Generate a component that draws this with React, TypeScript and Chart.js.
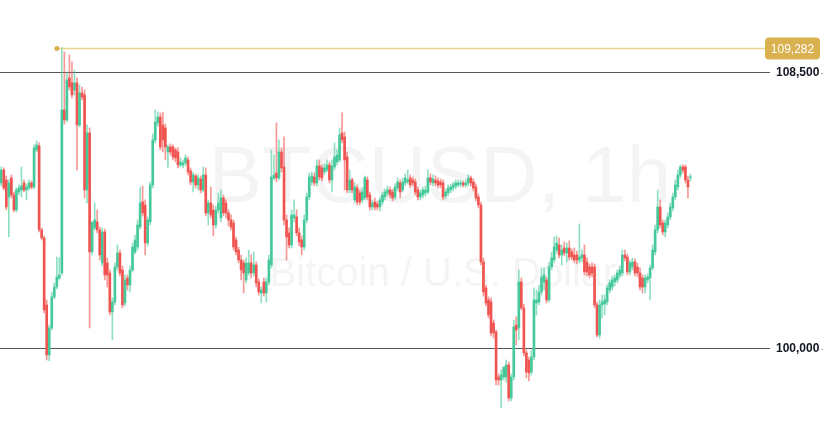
import React, { useEffect, useRef } from 'react';
import { Chart, registerables } from 'chart.js';

Chart.register(...registerables);

const opens = [105114,105514,105206,104682,105268,104744,104282,104836,104898,105114,104898,104960,105114,104990,106130,106253,103666,103420,101356,99816,100648,101602,101910,102188,102342,107362,107054,108348,108194,107978,108194,106900,107886,107824,104898,106654,102988,103728,103912,103666,102650,103604,102650,102342,101140,101448,102526,102958,102434,101418,102188,101972,102434,102988,103142,103758,104528,104436,103266,103912,105052,106438,106962,107146,106900,106808,106068,106222,106222,106130,106068,105668,105668,105730,105822,105483,105144,105329,105052,105237,104898,105360,104190,104498,104282,103820,104282,104036,104652,104498,104190,103974,103882,103358,103050,102742,102650,102126,102342,102650,102342,102588,102065,101726,102065,101726,102065,102588,105268,105422,105268,106068,105606,103974,103574,103204,104036,104066,103574,103358,103142,103974,104682,105144,105298,105114,105637,105576,105452,105514,105668,105206,105606,105760,105822,106654,106531,105914,104898,105206,104590,104960,104806,104590,104652,105206,104744,104374,104528,104467,104374,104528,104682,104806,104898,104836,104682,104960,105114,104898,105114,105144,105268,105206,105144,104898,104682,104744,104806,104836,105268,105114,105206,105175,105144,105114,104713,104806,104898,104960,105021,105052,105083,105114,105052,105114,105268,105144,104990,104682,104436,102680,101880,101510,101448,100802,100524,99138,99046,99138,99138,99508,98492,99138,100740,100648,102065,101264,99878,99662,99292,99754,101418,101448,101756,102065,102126,101510,102526,102742,103050,103204,102896,103111,102958,103111,102988,102896,102896,102742,102804,102896,102680,102526,102526,102526,101356,100432,101356,101387,101448,101818,101910,102065,102126,102280,102342,102896,102834,102372,102526,102680,102526,102342,102188,101910,102126,102188,102496,102988,103666,104374,103882,103604,103820,104066,104344,104682,104990,105360,105606,105606,105206,105268];
const highs = [105606,105576,105329,105206,105360,104836,104960,105052,105606,105206,105083,105206,105175,106284,106407,106346,103728,103481,101510,100740,101756,102034,102834,102804,109282,109148,108532,109056,108840,108594,108348,108132,108070,107978,106900,106808,103728,104498,104282,103758,103728,103697,102804,102434,101572,102650,103204,103050,102557,102280,102280,102557,103266,103512,103974,104990,105021,104590,104066,105144,106623,107362,107300,107270,107300,106931,106284,106315,106284,106192,106192,105884,105822,105976,105914,105576,105452,105391,105360,105329,105606,105576,104590,104990,104436,104405,104806,104898,104744,104590,104282,104128,103974,103450,103142,102896,102742,102804,103050,102896,102988,102680,102157,101910,102188,102188,102896,106130,105976,106962,106438,106192,106531,104128,103728,104282,104590,104282,103728,103481,104128,104806,105422,105452,105422,105822,105822,105668,105699,105822,105760,105822,106346,106130,106808,107270,106684,106068,105514,105268,105114,105052,104898,104960,105329,105298,104836,104590,104652,104559,104682,104836,104929,105021,104990,104929,105083,105268,105206,105268,105391,105514,105360,105298,105237,104990,104898,104990,105021,105514,105391,105360,105329,105268,105237,105206,104929,105052,105083,105144,105206,105206,105206,105175,105206,105360,105329,105237,105083,104775,104528,102804,101972,101602,101572,100894,100586,99231,99354,99262,99662,99600,99231,100894,100986,102434,102188,101387,99970,99754,99970,101880,101818,101972,102496,102496,102218,102680,102988,103450,103481,103420,103204,103296,103266,103327,103081,103111,103019,103851,103050,103204,102804,102619,102650,102619,101448,101510,101664,101664,101972,102126,102249,102280,102434,102557,103050,103050,102927,102742,102804,102773,102650,102496,102280,102280,102311,102588,103204,103820,104898,104590,103974,103974,104190,104498,104806,105206,105514,105668,105668,105668,105329,105391];
const lows = [105021,104898,104282,103450,104652,104220,104220,104744,104682,104836,104590,104898,104929,104929,106068,103604,103358,101110,99662,99631,100586,101541,101849,102126,102280,106931,106992,107978,107732,107824,105514,106838,107670,104652,104498,100648,102896,103666,103574,102742,102557,102126,101910,101048,100278,101356,102434,102249,101264,101325,101818,101756,102372,102927,103050,103697,104097,102896,103173,103820,104960,106346,106869,106130,106068,105822,105576,105976,105822,105760,105576,105606,105576,105637,105360,105052,104836,104960,104898,104806,104836,104097,103820,104036,103481,103728,104190,103912,104097,104036,103789,103666,103050,102896,102650,102126,101726,102034,102280,102188,102249,101910,101664,101418,101633,101448,101972,102496,105206,105144,105206,105452,103820,102742,103111,103111,103912,103481,103173,102896,103050,103882,104590,105052,105021,105021,105206,105175,105360,105452,105114,104836,105514,105668,105760,106346,104898,104806,104806,104806,104498,104436,104436,104498,104590,104590,104282,104282,104282,104282,104251,104436,104590,104713,104652,104559,104590,104867,104652,104836,105021,105083,104960,105021,104744,104590,104590,104652,104713,104775,105052,105021,105021,104960,104960,104590,104621,104713,104806,104867,104929,104990,104990,104990,104990,105021,105021,104867,104559,104344,102588,101633,101325,100956,100401,100340,98892,98892,98184,99046,98984,98399,98399,99046,100124,100278,101202,99785,99108,99015,99200,99662,101048,101356,101664,101818,101418,101448,102434,102650,102958,102804,102588,102865,102680,102742,102742,102650,102619,102650,102680,102280,102249,102188,102218,101264,100370,100340,100956,101048,101356,101726,101818,101941,102034,102188,102249,102711,102280,102280,102434,102249,102218,101818,101726,101726,102034,101510,102434,102896,103574,103728,103512,103450,103728,103974,104251,104590,104898,105268,105422,105114,104652,105175];
const closes = [105514,104960,104374,105114,104744,104282,104898,104960,105021,104898,104990,105114,104990,106192,106284,103666,103420,101202,99816,100648,101602,101910,102218,102280,107362,107054,108286,108070,107824,108194,106900,107886,107762,104898,106654,102988,103912,103974,103666,102896,103604,102280,102280,101140,101448,102526,102958,102342,101356,102126,101972,102434,103142,103358,103820,104498,104190,103266,103974,105052,106438,106992,107146,106222,106438,106222,106222,106068,105914,105884,105668,105760,105730,105884,105452,105144,105360,105052,105268,104898,105360,104190,104498,104128,103820,104282,104498,104652,104190,104190,103974,103758,103142,102988,102742,102434,102342,102650,102650,102342,102588,102034,101756,101818,101726,102065,102742,105298,105360,105268,106068,105576,103974,103450,103204,104128,104128,103574,103296,103142,103974,104682,105298,105329,105114,105637,105298,105268,105576,105668,105206,105637,105914,105976,106592,106438,105822,104898,105206,104898,104990,104528,104528,104836,105268,104682,104374,104498,104374,104374,104590,104744,104836,104898,104744,104652,104990,105144,104836,105144,105268,105206,105052,105114,104836,104682,104806,104898,104898,105268,105144,105237,105114,105052,105052,104682,104836,104960,104990,105052,105114,105114,105114,105052,105114,105268,105114,104960,104652,104436,102680,101756,101418,101048,100494,100494,99046,99046,99200,99446,99508,98492,99138,100678,100586,102065,101264,99878,99292,99262,99754,101510,101510,101756,102218,102280,101510,102526,102804,103142,103266,102896,103050,102958,103111,102834,102834,102742,102742,102834,102896,102372,102372,102280,102342,101356,100432,101356,101448,101510,101880,102034,102126,102188,102342,102434,102896,102804,102372,102650,102680,102342,102342,101910,101910,102188,102218,102496,103050,103666,104374,103820,103604,103882,104066,104374,104682,105052,105360,105606,105514,105206,104990,105298];

const futureSlots = 31;
const categories = Array.from({ length: opens.length + futureSlots }, (_, i) => `h${i}`);
const priceTicks = [100000, 108500];
const peakPrice = 109282;
const peakLabel = '109,282';
const titleText = 'BTCUSD, 1h';
const subtitleText = 'Bitcoin / U.S. Dollar';

const UP = 'rgb(70, 201, 154)';
const DOWN = 'rgb(240, 84, 80)';
const UP_WICK = 'rgba(70, 201, 154, 0.6)';
const DOWN_WICK = 'rgba(240, 84, 80, 0.6)';
const GOLD = '#d9b24f';
const GOLD_LINE = 'rgba(228, 196, 110, 0.75)';

const isUp = opens.map((o, i) => closes[i] >= o);

const overlayPlugin = {
  id: 'overlay',
  beforeDatasetsDraw(chart: any) {
    const { ctx } = chart;
    ctx.save();
    ctx.fillStyle = 'rgba(0,0,0,0.045)';
    ctx.textAlign = 'center';
    ctx.textBaseline = 'middle';
    ctx.font = '80px "Liberation Sans", Arial, sans-serif';
    ctx.fillText(titleText, 440, 180);
    ctx.font = '40px "Liberation Sans", Arial, sans-serif';
    ctx.fillText(subtitleText, 443, 275);
    ctx.restore();
  },
  afterDatasetsDraw(chart: any) {
    const { ctx, chartArea } = chart;
    const ys = chart.scales.y;
    const xs = chart.scales.x;
    const peakIdx = highs.indexOf(Math.max(...highs));
    const y = Math.round(ys.getPixelForValue(peakPrice)) + 0.5;
    const x0 = xs.getPixelForValue(peakIdx) - 5;
    ctx.save();
    ctx.strokeStyle = GOLD_LINE;
    ctx.lineWidth = 1.5;
    ctx.beginPath();
    ctx.moveTo(x0, y);
    ctx.lineTo(chartArea.right - 5, y);
    ctx.stroke();
    ctx.fillStyle = GOLD;
    ctx.beginPath();
    ctx.arc(x0, y, 2.5, 0, Math.PI * 2);
    ctx.fill();
    const bx = chartArea.right - 5;
    const bw = 55;
    const bh = 22;
    const by = y - bh / 2;
    ctx.beginPath();
    ctx.roundRect(bx, by, bw, bh, 4);
    ctx.fill();
    ctx.fillStyle = '#ffffff';
    ctx.font = '12px "Liberation Sans", Arial, sans-serif';
    ctx.textAlign = 'center';
    ctx.textBaseline = 'middle';
    ctx.fillText(peakLabel, bx + bw / 2, y + 1);
    ctx.strokeStyle = '#b0b0b0';
    ctx.lineWidth = 1;
    priceTicks.forEach((v) => {
      const ty = Math.round(ys.getPixelForValue(v)) + 0.5;
      ctx.beginPath();
      ctx.moveTo(chartArea.right + 51, ty);
      ctx.lineTo(chartArea.right + 53, ty);
      ctx.stroke();
    });
    ctx.restore();
  },
};

export default function App() {
  const ref = useRef<HTMLCanvasElement | null>(null);
  useEffect(() => {
    if (!ref.current) return;
    const chart = new Chart(ref.current, {
      type: 'bar',
      data: {
        labels: categories,
        datasets: [
          {
            label: 'body',
            data: opens.map((o, i) => [o, closes[i]]) as any,
            backgroundColor: isUp.map((u) => (u ? UP : DOWN)),
            barThickness: 2,
            minBarLength: 1,
            grouped: false,
            borderWidth: 0,
          } as any,
          {
            label: 'wick',
            data: lows.map((l, i) => [l, highs[i]]) as any,
            backgroundColor: isUp.map((u) => (u ? UP_WICK : DOWN_WICK)),
            barThickness: 1,
            grouped: false,
            borderWidth: 0,
          } as any,
        ],
      },
      options: {
        responsive: false,
        animation: false,
        layout: { padding: 0 },
        plugins: { legend: { display: false }, tooltip: { enabled: false } },
        scales: {
          x: { display: false, offset: true },
          y: {
            position: 'right',
            min: 97690,
            max: 110748,
            afterBuildTicks: (axis: any) => {
              axis.ticks = priceTicks.map((v) => ({ value: v }));
            },
            afterFit: (axis: any) => {
              axis.width = 66;
              axis.paddingTop = 0;
              axis.paddingBottom = 0;
            },
            grid: { color: '#555555', lineWidth: 1, drawTicks: false },
            border: { display: false },
            ticks: {
              padding: 6,
              color: '#131722',
              font: { family: '"Liberation Sans", Arial, sans-serif', size: 12, weight: 'bold' },
              callback: (v: any) => Number(v).toLocaleString('en-US'),
            },
          },
        },
      },
      plugins: [overlayPlugin],
    });
    return () => chart.destroy();
  }, []);
  return (
    <div style={{ position: 'fixed', left: 0, top: 0, width: 836, height: 424, background: '#fff' }}>
      <canvas ref={ref} width={836} height={424} style={{ width: 836, height: 424, display: 'block' }} />
    </div>
  );
}
